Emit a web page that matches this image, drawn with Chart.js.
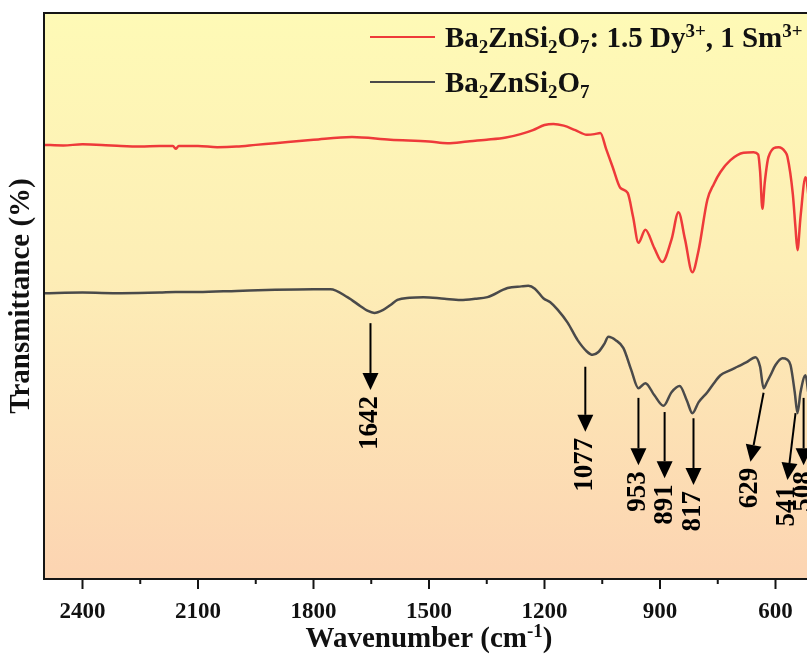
<!DOCTYPE html>
<html>
<head>
<meta charset="utf-8">
<script src="https://cdn.jsdelivr.net/npm/chart.js@4/dist/chart.umd.min.js"></script>
<style>
  html, body { margin: 0; padding: 0; background: #fff; overflow: hidden; }
  #wrap { width: 807px; height: 654px; overflow: hidden; }
</style>
</head>
<body>
<div id="wrap"><canvas id="graficoFTIR" width="816" height="654"></canvas></div>
<script>
// DATA ------------------------------------------
// Ba2ZnSi2O7: 1.5 Dy3+, 1 Sm3+ (red)
var wnRed = [2500, 2450, 2400, 2350, 2300, 2250, 2200, 2165, 2158, 2150, 2100, 2050, 2000, 1950, 1900, 1800, 1700, 1600, 1500, 1452, 1400, 1350, 1300, 1262, 1230, 1200, 1177, 1150, 1120, 1090, 1070, 1055, 1040, 1023, 1003, 984, 970, 956, 938, 915, 894, 870, 852, 835, 816, 800, 777, 760, 743, 717, 683, 657, 645, 640, 634, 628, 618, 592, 575, 569, 555, 548, 543, 535, 522, 515, 508, 500];
var tRed = [76.7, 76.6, 76.8, 76.7, 76.5, 76.4, 76.5, 76.5, 76.0, 76.5, 76.5, 76.3, 76.4, 76.7, 77.0, 77.6, 78.1, 77.6, 77.3, 77.0, 77.3, 77.6, 78.0, 78.6, 79.3, 80.2, 80.4, 80.1, 79.3, 78.5, 78.6, 78.8, 76.0, 72.8, 69.1, 68.2, 64.0, 59.4, 61.7, 58.5, 56.0, 60.0, 64.8, 60.0, 54.2, 58.0, 67.0, 69.8, 71.9, 74.0, 75.3, 75.4, 75.0, 72.0, 65.4, 70.0, 74.6, 76.3, 75.5, 74.6, 68.0, 62.0, 58.1, 64.0, 71.0, 68.0, 62.0, 66.0];

// Ba2ZnSi2O7 (gray)
var wnGray = [2500, 2400, 2300, 2200, 2158, 2100, 2000, 1900, 1800, 1756, 1712, 1678, 1660, 1642, 1620, 1600, 1582, 1550, 1514, 1460, 1418, 1380, 1348, 1296, 1260, 1242, 1225, 1203, 1185, 1166, 1140, 1114, 1090, 1075, 1060, 1045, 1034, 1015, 995, 975, 956, 938, 915, 891, 870, 849, 830, 816, 800, 777, 760, 743, 720, 699, 675, 652, 640, 631, 622, 613, 600, 582, 570, 561, 550, 543, 535, 522, 515, 508, 500];
var tGray = [50.5, 50.6, 50.5, 50.6, 50.7, 50.7, 50.9, 51.1, 51.2, 51.2, 49.8, 48.2, 47.4, 47.0, 47.5, 48.4, 49.3, 49.7, 49.8, 49.5, 49.3, 49.5, 49.8, 51.4, 51.7, 51.8, 51.3, 49.6, 48.9, 47.6, 45.3, 42.2, 40.2, 39.6, 40.1, 41.5, 42.8, 42.2, 40.8, 37.0, 33.7, 34.6, 32.5, 30.6, 33.0, 34.1, 31.5, 29.3, 31.2, 33.0, 34.6, 36.0, 36.8, 37.5, 38.3, 39.2, 37.5, 33.7, 34.8, 36.0, 37.8, 39.0, 38.8, 37.8, 33.0, 29.3, 33.0, 36.0, 33.0, 29.5, 33.0];

// peak arrows (wavenumber / transmittance of tail and tip)
var peakLabels = ["1642", "1077", "953", "891", "817", "629", "541", "508"];
var arrowTailWn = [1652, 1094, 956, 888, 813, 631, 548, 527];
var arrowTipWn = [1652, 1094, 956, 888, 813, 665, 569, 527];
var arrowTailT = [45.2, 37.5, 32.0, 29.5, 28.4, 32.9, 29.3, 32.0];
var arrowTipT = [33.4, 26.0, 20.1, 17.8, 16.6, 20.7, 17.5, 20.1];

var xTickLabels = [2400, 2100, 1800, 1500, 1200, 900, 600];
var xMinorTicks = [2250, 1950, 1650, 1350, 1050, 750];

// HELPERS ---------------------------------------
var SERIF = '"Liberation Serif", "Times New Roman", serif';

function pontos(xs, ys) {
  return xs.map(function (x, i) { return { x: x, y: ys[i] }; });
}

// parts: [text, 0 normal | 1 subscript | 2 superscript]
function larguraRica(ctx, parts, size) {
  var w = 0;
  parts.forEach(function (p) {
    var s = p[1] ? Math.round(size * 0.66) : size;
    ctx.font = "bold " + s + "px " + SERIF;
    w += ctx.measureText(p[0]).width;
  });
  return w;
}

function textoRico(ctx, parts, x, y, size) {
  ctx.textAlign = "left";
  ctx.textBaseline = "alphabetic";
  parts.forEach(function (p) {
    var s = p[1] ? Math.round(size * 0.66) : size;
    var dy = p[1] === 1 ? size * 0.22 : (p[1] === 2 ? -size * 0.33 : 0);
    ctx.font = "bold " + s + "px " + SERIF;
    ctx.fillText(p[0], x, y + dy);
    x += ctx.measureText(p[0]).width;
  });
}

// PLUGIN — background, frame, ticks, arrows, legend
var decoracao = {
  id: "decoracao",
  beforeDatasetsDraw: function (chart) {
    var ctx = chart.ctx, a = chart.chartArea;
    var g = ctx.createLinearGradient(0, a.top, 0, a.bottom);
    g.addColorStop(0, "#fefab6");
    g.addColorStop(0.45, "#fdeeb6");
    g.addColorStop(1, "#fcd4b2");
    ctx.save();
    ctx.fillStyle = g;
    ctx.fillRect(a.left, a.top, a.right - a.left, a.bottom - a.top);
    ctx.restore();
  },
  afterDatasetsDraw: function (chart) {
    var ctx = chart.ctx, a = chart.chartArea;
    var sx = chart.scales.x, sy = chart.scales.y;
    ctx.save();

    // frame
    ctx.strokeStyle = "#151515";
    ctx.lineWidth = 2;
    ctx.strokeRect(a.left, a.top, a.right - a.left, a.bottom - a.top);

    // x tick marks
    xTickLabels.concat(xMinorTicks).forEach(function (v) {
      var px = sx.getPixelForValue(v);
      var len = xTickLabels.indexOf(v) >= 0 ? 10 : 5;
      ctx.beginPath();
      ctx.moveTo(px, a.bottom);
      ctx.lineTo(px, a.bottom + len);
      ctx.stroke();
    });

    // arrows
    ctx.fillStyle = "#000";
    ctx.strokeStyle = "#000";
    peakLabels.forEach(function (lab, i) {
      var x0 = sx.getPixelForValue(arrowTailWn[i]), y0 = sy.getPixelForValue(arrowTailT[i]);
      var x1 = sx.getPixelForValue(arrowTipWn[i]), y1 = sy.getPixelForValue(arrowTipT[i]);
      var ang = Math.atan2(y1 - y0, x1 - x0);
      var hl = 17, hw = 8;
      var bx = x1 - Math.cos(ang) * hl, by = y1 - Math.sin(ang) * hl;
      ctx.lineWidth = 2;
      ctx.beginPath();
      ctx.moveTo(x0, y0);
      ctx.lineTo(bx, by);
      ctx.stroke();
      ctx.beginPath();
      ctx.moveTo(x1, y1);
      ctx.lineTo(bx + Math.sin(ang) * hw, by - Math.cos(ang) * hw);
      ctx.lineTo(bx - Math.sin(ang) * hw, by + Math.cos(ang) * hw);
      ctx.closePath();
      ctx.fill();

      ctx.save();
      ctx.translate(x1, y1 + 6);
      ctx.rotate(-Math.PI / 2);
      ctx.font = "bold 27px " + SERIF;
      ctx.textAlign = "right";
      ctx.textBaseline = "middle";
      ctx.fillText(lab, 0, 0);
      ctx.restore();
    });

    // legend
    var itens = [
      { cor: "#ee3a3a", y: 47, parts: [["Ba", 0], ["2", 1], ["ZnSi", 0], ["2", 1], ["O", 0], ["7", 1], [": 1.5 Dy", 0], ["3+", 2], [", 1 Sm", 0], ["3+", 2]] },
      { cor: "#4a4a4a", y: 92, parts: [["Ba", 0], ["2", 1], ["ZnSi", 0], ["2", 1], ["O", 0], ["7", 1]] }
    ];
    itens.forEach(function (it) {
      ctx.strokeStyle = it.cor;
      ctx.lineWidth = 2;
      ctx.beginPath();
      ctx.moveTo(370, it.y - 10);
      ctx.lineTo(435, it.y - 10);
      ctx.stroke();
      ctx.fillStyle = "#111";
      textoRico(ctx, it.parts, 445, it.y, 29);
    });

    // x axis title
    var tit = [["Wavenumber (cm", 0], ["-1", 2], [")", 0]];
    var w = larguraRica(ctx, tit, 29);
    ctx.fillStyle = "#111";
    textoRico(ctx, tit, (a.left + a.right) / 2 - w / 2, 647, 29);

    ctx.restore();
  }
};

// CHART -----------------------------------------
var ctxFTIR = document.getElementById("graficoFTIR");

new Chart(ctxFTIR, {
  type: "line",
  data: {
    datasets: [
      {
        label: "Ba2ZnSi2O7: 1.5 Dy3+, 1 Sm3+",
        data: pontos(wnRed, tRed),
        borderColor: "#ee3a3a",
        borderWidth: 2.5,
        pointRadius: 0,
        cubicInterpolationMode: "monotone"
      },
      {
        label: "Ba2ZnSi2O7",
        data: pontos(wnGray, tGray),
        borderColor: "#4a4a4a",
        borderWidth: 2.5,
        pointRadius: 0,
        cubicInterpolationMode: "monotone"
      }
    ]
  },
  options: {
    responsive: false,
    animation: false,
    layout: { padding: { top: 13, right: 2, left: 0, bottom: 0 } },
    plugins: { legend: { display: false }, tooltip: { enabled: false } },
    scales: {
      x: {
        type: "linear",
        reverse: true,
        min: 500,
        max: 2500,
        grid: { display: false },
        border: { display: false },
        afterFit: function (s) { s.height = 75; s.paddingLeft = 0; s.paddingRight = 0; },
        afterBuildTicks: function (s) {
          s.ticks = xTickLabels.map(function (v) { return { value: v }; });
        },
        ticks: {
          autoSkip: false,
          maxRotation: 0,
          padding: 11,
          color: "#111",
          font: { family: SERIF, weight: "bold", size: 23 },
          callback: function (v) { return String(v); }
        }
      },
      y: {
        min: 0,
        max: 100,
        grid: { display: false },
        border: { display: false },
        ticks: { display: false },
        afterFit: function (s) { s.width = 44; },
        title: {
          display: true,
          text: "Transmittance (%)",
          color: "#111",
          font: { family: SERIF, weight: "bold", size: 29 }
        }
      }
    }
  },
  plugins: [decoracao]
});
</script>
</body>
</html>
